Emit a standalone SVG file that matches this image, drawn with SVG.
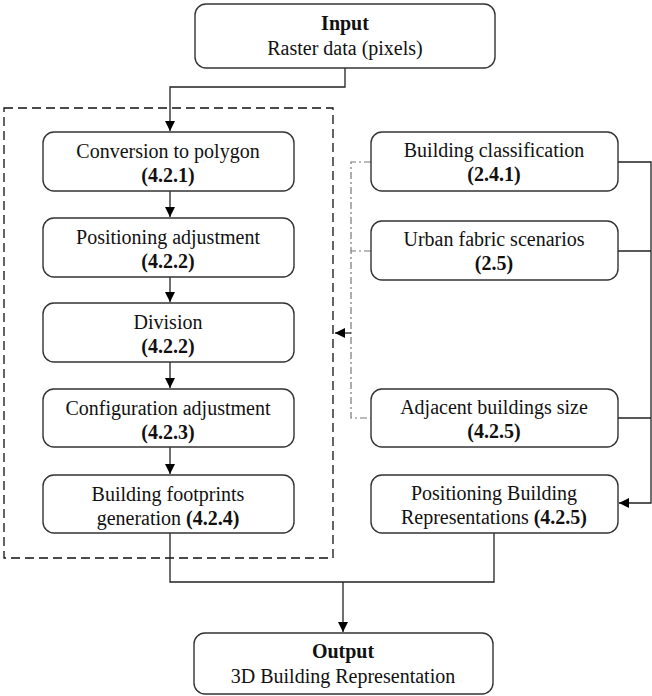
<svg xmlns="http://www.w3.org/2000/svg" width="652" height="696" viewBox="0 0 652 696" font-family="Liberation Serif, Times New Roman, serif">
<defs>
<marker id="ah" viewBox="0 0 10 10" refX="10" refY="5" markerWidth="10" markerHeight="10" markerUnits="userSpaceOnUse" orient="auto">
<path d="M0,0 L10,5 L0,10 z" fill="#000"/>
</marker>
</defs>
<style>
.box{fill:#fff;stroke:#333;stroke-width:1.4}
.t{font-size:20px;fill:#111;text-anchor:middle}
.b{font-weight:bold}
.c{fill:none;stroke:#222;stroke-width:1.3}
.dd{fill:none;stroke:#777;stroke-width:1.2;stroke-dasharray:7 3 2 3}
.frame{fill:none;stroke:#111;stroke-width:1.3;stroke-dasharray:9 5}
</style>
<rect width="652" height="696" fill="#fff"/>
<rect class="frame" x="4" y="108" width="329" height="450"/>
<g id="connectors">
<path class="c" d="M345,68 V87 H170 V131" marker-end="url(#ah)"/>
<path class="c" d="M170,191 V217" marker-end="url(#ah)"/>
<path class="c" d="M170,277 V302" marker-end="url(#ah)"/>
<path class="c" d="M170,362 V388" marker-end="url(#ah)"/>
<path class="c" d="M170,447 V474" marker-end="url(#ah)"/>
<path class="c" d="M170,533 V582 H494 V533"/>
<path class="c" d="M343,582 V632" marker-end="url(#ah)"/>
<path class="c" d="M618,162 H651 V503 H619" marker-end="url(#ah)"/>
<path class="c" d="M618,251 H651"/>
<path class="c" d="M618,418 H651"/>
<path class="dd" d="M371,162 H351 V418 H371"/>
<path class="dd" d="M371,251 H351"/>
<path class="c" d="M351,333 H335" marker-end="url(#ah)"/>
</g>
<g id="input">
<rect class="box" x="195" y="4" width="300" height="64" rx="11"/>
<text class="t b" x="345" y="30">Input</text>
<text class="t" x="345" y="55">Raster data (pixels)</text>
</g>
<g id="conversion">
<rect class="box" x="43" y="132" width="251" height="59" rx="11"/>
<text class="t" x="168" y="158">Conversion to polygon</text>
<text class="t b" x="168" y="182">(4.2.1)</text>
</g>
<g id="positioning-adj">
<rect class="box" x="43" y="218" width="251" height="59" rx="11"/>
<text class="t" x="168" y="244">Positioning adjustment</text>
<text class="t b" x="168" y="268">(4.2.2)</text>
</g>
<g id="division">
<rect class="box" x="43" y="303" width="251" height="59" rx="11"/>
<text class="t" x="168" y="329">Division</text>
<text class="t b" x="168" y="353">(4.2.2)</text>
</g>
<g id="configuration">
<rect class="box" x="43" y="389" width="251" height="58" rx="11"/>
<text class="t" x="168" y="415">Configuration adjustment</text>
<text class="t b" x="168" y="439">(4.2.3)</text>
</g>
<g id="footprints">
<rect class="box" x="43" y="475" width="251" height="58" rx="11"/>
<text class="t" x="168" y="501">Building footprints</text>
<text class="t" x="168" y="525">generation <tspan class="b">(4.2.4)</tspan></text>
</g>
<g id="classification">
<rect class="box" x="371" y="132" width="247" height="59" rx="11"/>
<text class="t" x="494" y="157">Building classification</text>
<text class="t b" x="494" y="181">(2.4.1)</text>
</g>
<g id="urban">
<rect class="box" x="371" y="221" width="247" height="59" rx="11"/>
<text class="t" x="494" y="246">Urban fabric scenarios</text>
<text class="t b" x="494" y="270">(2.5)</text>
</g>
<g id="adjacent">
<rect class="box" x="371" y="389" width="247" height="58" rx="11"/>
<text class="t" x="494" y="414">Adjacent buildings size</text>
<text class="t b" x="494" y="438">(4.2.5)</text>
</g>
<g id="positioning-rep">
<rect class="box" x="371" y="475" width="247" height="58" rx="11"/>
<text class="t" x="494" y="500">Positioning Building</text>
<text class="t" x="494" y="524">Representations <tspan class="b">(4.2.5)</tspan></text>
</g>
<g id="output">
<rect class="box" x="194" y="633" width="299" height="61" rx="11"/>
<text class="t b" x="343" y="658">Output</text>
<text class="t" x="343" y="683">3D Building Representation</text>
</g>
</svg>
